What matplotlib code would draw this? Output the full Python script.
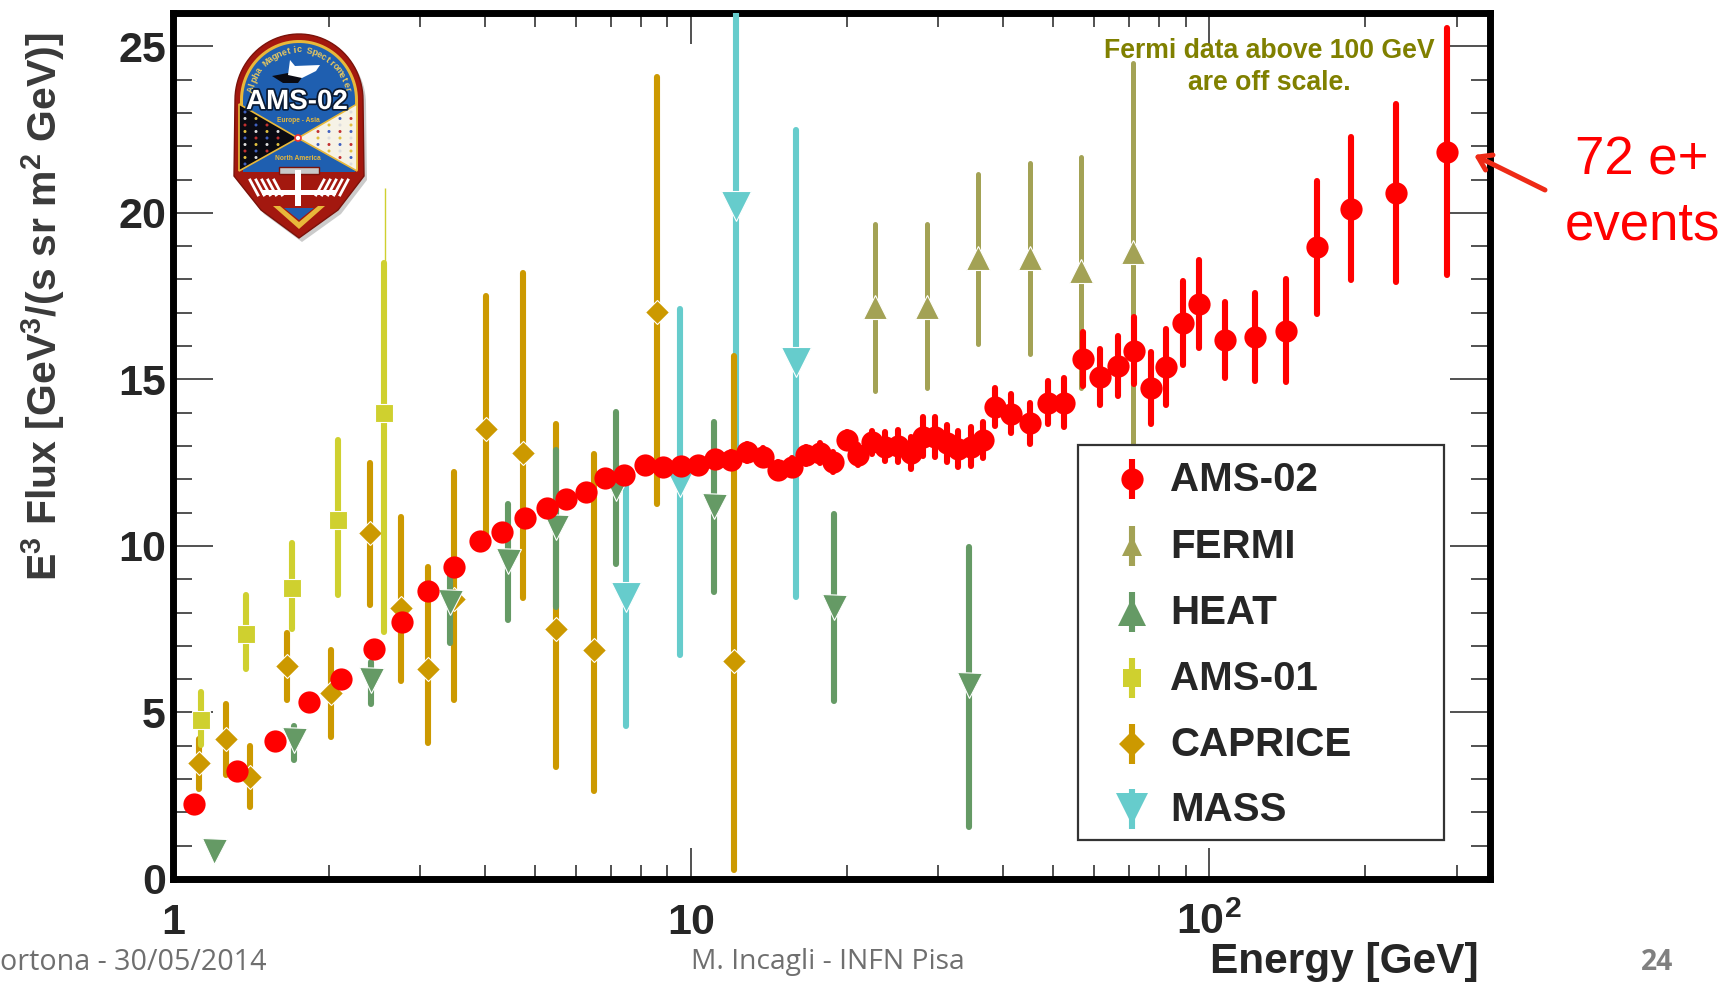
import math
import numpy as np
import matplotlib
matplotlib.use("Agg")
import matplotlib.pyplot as plt
import matplotlib.patheffects as pe
from matplotlib.patches import Polygon, Rectangle, Circle, FancyArrowPatch

plt.rcParams['font.family'] = ['Liberation Sans', 'DejaVu Sans']
plt.rcParams['mathtext.fontset'] = 'custom'
plt.rcParams['mathtext.bf'] = 'Liberation Sans:bold'
plt.rcParams['mathtext.rm'] = 'Liberation Sans'

# values
ams02_e = [1.10, 1.327, 1.572, 1.83, 2.11, 2.44, 2.77, 3.11, 3.48, 3.91, 4.32, 4.77, 5.26, 5.74, 6.27,
           6.83, 7.43, 8.14, 8.82, 9.54, 10.33, 11.11, 11.96, 12.82, 13.73, 14.71, 15.68, 16.63, 17.73,
           18.81, 19.95, 20.95, 22.3, 23.7, 25.1, 26.5, 28.0, 29.6, 31.2, 32.8, 34.6, 36.5, 38.5, 41.5,
           45.1, 48.8, 52.5, 57.1, 61.5, 66.5, 71.6, 77.1, 82.6, 88.9, 95.7, 107.1, 122.3, 140.4, 161,
           187.6, 229.5, 287.7]
ams02_flux = [2.26, 3.23, 4.15, 5.30, 5.99, 6.90, 7.72, 8.64, 9.36, 10.15, 10.41, 10.83, 11.13, 11.42, 11.62,
              12.05, 12.12, 12.42, 12.37, 12.40, 12.42, 12.62, 12.58, 12.81, 12.68, 12.28, 12.38, 12.72, 12.78,
              12.52, 13.18, 12.72, 13.11, 12.98, 13.01, 12.78, 13.28, 13.28, 13.08, 12.91, 12.98, 13.18, 14.17, 13.97,
              13.68, 14.30, 14.30, 15.60, 15.07, 15.40, 15.86, 14.74, 15.36, 16.69, 17.25, 16.19, 16.26, 16.46, 18.97,
              20.13, 20.60, 21.84]
ams02_err = [0.1, 0.1, 0.1, 0.1, 0.1, 0.15, 0.15, 0.15, 0.15, 0.15, 0.2, 0.2, 0.2, 0.2, 0.2,
             0.2, 0.2, 0.2, 0.2, 0.2, 0.2, 0.2, 0.25, 0.25, 0.25, 0.25, 0.25, 0.25, 0.3,
             0.3, 0.23, 0.3, 0.35, 0.43, 0.48, 0.48, 0.58, 0.6, 0.56, 0.53, 0.58, 0.55, 0.58, 0.58,
             0.61, 0.65, 0.73, 0.81, 0.84, 0.89, 1.0, 1.08, 1.14, 1.27, 1.32, 1.14, 1.32, 1.55, 2.0,
             2.15, 2.68, 3.7]

fermi_e = [22.6, 28.5, 35.7, 45.1, 56.6, 71.2]
fermi_flux = [17.18, 17.18, 18.65, 18.65, 18.25, 18.81]
fermi_lo = [14.65, 14.75, 16.07, 15.75, 14.73, 13.08]
fermi_hi = [19.67, 19.67, 21.16, 21.51, 21.68, 24.5]

heat_e = [1.20, 1.71, 2.41, 3.43, 4.44, 5.48, 7.15, 11.09, 18.9, 34.4]
heat_flux = [0.84, 4.18, 5.98, 8.33, 9.56, 10.58, 11.73, 11.19, 8.18, 5.83]
heat_lo = [0.84, 3.58, 5.26, 7.09, 7.78, 8.18, 9.46, 8.63, 5.33, 1.56]
heat_hi = [0.84, 4.58, 6.53, 9.18, 11.27, 12.87, 14.02, 13.72, 10.96, 9.97]

ams01_e = [1.13, 1.383, 1.70, 2.08, 2.55]
ams01_flux = [4.76, 7.36, 8.75, 10.77, 14.0]
ams01_lo = [4.03, 6.3, 7.52, 8.52, 7.42]
ams01_hi = [5.6, 8.52, 10.09, 13.17, 18.5]
ams01_thin_e = 2.57
ams01_thin_top = 20.76

caprice_e = [1.12, 1.264, 1.41, 1.66, 2.02, 2.40, 2.75, 3.11, 3.48, 4.01, 4.74, 5.48, 6.49, 8.60, 12.1]
caprice_flux = [3.49, 4.19, 3.07, 6.38, 5.59, 10.38, 8.14, 6.3, 8.41, 13.52, 12.78, 7.5, 6.88, 17.03, 6.56]
caprice_lo = [2.71, 3.13, 2.15, 5.38, 4.27, 8.22, 5.93, 4.08, 5.38, 10.27, 8.44, 3.35, 2.65, 11.27, 0.26]
caprice_hi = [4.19, 5.26, 3.98, 7.38, 6.88, 12.48, 10.87, 9.38, 12.22, 17.49, 18.18, 13.65, 12.75, 24.08, 15.7]

mass_e = [7.50, 9.50, 12.2, 15.95]
mass_flux = [8.48, 11.92, 20.2, 15.52]
mass_lo = [4.58, 6.73, 12.5, 8.48]
mass_hi = [12.1, 17.12, 27.0, 22.5]

y_ticks = [0, 5, 10, 15, 20, 25]
y_tick_labels = ['0', '5', '10', '15', '20', '25']
x_ticks = [1, 10, 100]
x_tick_labels = ['1', '10', r'10$^{\mathbf{2}}$']
legend_names = ['AMS-02', 'FERMI', 'HEAT', 'AMS-01', 'CAPRICE', 'MASS']

RED = '#ff0000'
FERMI_C = '#a3a255'
HEAT_C = '#659a65'
AMS01_C = '#cfd02f'
CAPRICE_C = '#cc9900'
MASS_C = '#66cccc'
TEXT_C = '#262626'

W, H = 1733, 983
fig = plt.figure(figsize=(W / 100, H / 100), dpi=100, facecolor='white')
ax = fig.add_axes([173 / W, 1 - 879 / H, (1490 - 173) / W, (879 - 13) / H])


def draw(e, flux, lo, hi, color, marker, ms, lw, z):
    lo = np.array(lo)
    hi = np.array(hi)
    flux = np.array(flux)
    cont = ax.errorbar(e, flux, yerr=[flux - lo, hi - flux], fmt=marker, color=color, ms=ms,
                       mec='white', mew=0.8, elinewidth=lw, capsize=0, zorder=z)
    cont[2][0].set_capstyle('round')


draw(mass_e, mass_flux, mass_lo, mass_hi, MASS_C, 'v', 21, 4.4, 3)
draw(caprice_e, caprice_flux, caprice_lo, caprice_hi, CAPRICE_C, 'D', 12, 4.4, 4)
ax.vlines(ams01_thin_e, ams01_hi[-1], ams01_thin_top, color=AMS01_C, lw=1.0, zorder=5)
draw(ams01_e, ams01_flux, ams01_lo, ams01_hi, AMS01_C, 's', 12.5, 4.4, 5)
draw(heat_e, heat_flux, heat_lo, heat_hi, HEAT_C, 'v', 18, 4.4, 6)
draw(fermi_e, fermi_flux, fermi_lo, fermi_hi, FERMI_C, '^', 17, 3.6, 7)
red = ax.errorbar(ams02_e, ams02_flux, yerr=ams02_err, fmt='o', color=RED, ms=16, mec=RED, mew=0,
                  elinewidth=4.4, capsize=0, zorder=8)
red[2][0].set_capstyle('round')

ax.set_xscale('log')
ax.set_xlim(1, 348)
ax.set_ylim(0, 26)
ax.set_xticks(x_ticks)
ax.set_xticklabels(x_tick_labels)
ax.set_xticks([m * d for d in (1, 10, 100) for m in range(2, 10) if m * d < 348], minor=True)
ax.set_xticklabels([], minor=True)
ax.set_yticks(y_ticks)
ax.set_yticklabels(y_tick_labels)
ax.set_yticks([v for v in range(0, 27) if v % 5 != 0], minor=True)
for s in ax.spines.values():
    s.set_linewidth(5)
    s.set_color('black')
ax.tick_params(axis='x', which='major', direction='in', top=True, length=22, width=1.2, color='#333333',
               pad=17, labelsize=31, labelcolor=TEXT_C)
ax.tick_params(axis='x', which='minor', direction='in', top=True, length=10, width=1.2, color='#333333')
ax.tick_params(axis='y', which='major', direction='in', right=True, length=29, width=1.2, color='#333333',
               pad=5, labelsize=31, labelcolor=TEXT_C)
ax.tick_params(axis='y', which='minor', direction='in', right=True, length=14, width=1.2, color='#333333')
for t in ax.get_xticklabels() + ax.get_yticklabels():
    t.set_fontweight('bold')

# everything placed by pixel goes on a transparent axes over the plot
ov = fig.add_axes([0, 0, 1, 1], facecolor='none')
ov.set_xlim(0, W)
ov.set_ylim(H, 0)
ov.axis('off')

ov.text(43, 307, r'E$^{\mathbf{3}}$ Flux [GeV$^{\mathbf{3}}$/(s sr m$^{\mathbf{2}}$ GeV)]', rotation=90,
        ha='center', va='center', fontsize=29.5, fontweight='bold', color='#3a3a3a')
ov.text(1479, 962, 'Energy [GeV]', ha='right', va='center', fontsize=30.5, fontweight='bold', color=TEXT_C)

ov.text(1269, 67, 'Fermi data above 100 GeV\nare off scale.', ha='center', va='center', fontsize=19.2,
        fontweight='bold', color='#808000', linespacing=1.3)
ov.text(1642, 193, '72 e+\nevents', ha='center', va='center', fontsize=38, color=RED, linespacing=1.4)
ov.add_patch(FancyArrowPatch((1545, 190), (1474, 155), arrowstyle='->,head_length=9,head_width=6',
                             color='#ee2a16', lw=3.6, shrinkA=0, shrinkB=0))

ov.text(0, 962, 'ortona - 30/05/2014', ha='left', va='center', fontsize=20.6, family='Open Sans', color='#6f6f6f')
ov.text(828, 962, 'M. Incagli - INFN Pisa', ha='center', va='center', fontsize=20.3, family='Open Sans',
        color='#6f6f6f')
ov.text(1657, 962, '24', ha='center', va='center', fontsize=20.3, family='Open Sans', fontweight='bold',
        color='#808080')

# legend box
ov.add_patch(Rectangle((1078, 445), 366, 395, fc='white', ec='#333333', lw=1.6, zorder=10))
legend_y = [479, 546, 612, 678, 744, 809]
legend_style = [(RED, 'o', 16, 4.4), (FERMI_C, '^', 15, 4.4), (HEAT_C, '^', 20, 4.4),
                (AMS01_C, 's', 12.5, 4.4), (CAPRICE_C, 'D', 13, 4.4), (MASS_C, 'v', 23, 4.4)]
for name, y, st in zip(legend_names, legend_y, legend_style):
    ov.plot([1132, 1132], [y - 20, y + 20], color=st[0], lw=st[3], zorder=11, solid_capstyle='butt')
    ov.plot([1132], [y], st[1], color=st[0], ms=st[2], mew=0, zorder=12)
    ov.text(1170, y + 1, name, ha='left', va='center', fontsize=29, fontweight='bold', color=TEXT_C, zorder=12)


# AMS-02 mission badge
def badge():
    cx, cy, rx = 299, 100, 64
    arch = [(cx - rx * math.cos(a), cy - 66 * math.sin(a)) for a in np.linspace(0, math.pi, 50)]
    outer = arch + [(364, 176), (338, 210), (299, 238), (261, 210), (234, 176)]
    ov.add_patch(Polygon([(x + 3, y + 4) for x, y in outer], fc='#999999', ec='none', alpha=0.5, zorder=20))
    ov.add_patch(Polygon(outer, fc='#a3180f', ec='#7a120a', lw=1, zorder=21))
    arch2 = [(cx - 59 * math.cos(a), cy - 60 * math.sin(a)) for a in np.linspace(0, math.pi, 50)]
    ov.add_patch(Polygon(arch2 + [(358, 170), (240, 170)], fc='#e8b83a', ec='none', zorder=22))
    arch3 = [(cx - 56 * math.cos(a), cy - 57 * math.sin(a)) for a in np.linspace(0, math.pi, 50)]
    ov.add_patch(Polygon(arch3 + [(355, 172), (243, 172)], fc='#1f5fb0', ec='none', zorder=23))
    # black and white wedges
    ov.add_patch(Polygon([(239, 104), (298, 138), (239, 171)], fc='#0a0a12', ec='#e8b83a', lw=1.2, zorder=24))
    ov.add_patch(Polygon([(357, 104), (298, 138), (357, 171)], fc='#f6f2e6', ec='#e8b83a', lw=1.2, zorder=24))
    dot_cols = ['#dddddd', '#c23030', '#e0c040', '#4060c0']
    for i in range(4):
        for j in range(2 * i + 3):
            yy = 138 + (j - (2 * i + 2) / 2) * 6.5
            ov.add_patch(Circle((278 - i * 11, yy), 1.5, fc=dot_cols[(i + j) % 4], ec='none', zorder=25))
            ov.add_patch(Circle((318 + i * 11, yy), 1.5, fc=dot_cols[(i + j + 1) % 4], ec='none', zorder=25))
    ov.add_patch(Circle((298, 138), 3, fc='white', ec='#ee3030', lw=1.2, zorder=26))
    # lower blue panel and chevron
    ov.add_patch(Polygon([(298, 142), (356, 172), (243, 172)], fc='#1f5fb0', ec='none', zorder=26))
    ov.add_patch(Polygon([(273, 206), (299, 229), (325, 206), (318, 206), (299, 222), (280, 206)], fc='#e8b83a',
                         ec='none', zorder=26))
    ov.add_patch(Polygon([(284, 208), (299, 220), (314, 208)], fc='#1f5fb0', ec='none', zorder=26))
    ov.text(298, 158, 'North America', ha='center', va='center', fontsize=4.8, fontweight='bold', color='#e8b83a',
            zorder=27)
    ov.text(298, 121, 'Europe - Asia', ha='center', va='center', fontsize=4.8, fontweight='bold', color='#e8b83a',
            zorder=27)
    # station
    ov.add_patch(Rectangle((279, 167), 40, 7, fc='#c8c8c8', ec='#7a120a', lw=1, zorder=27))
    ov.add_patch(Rectangle((295, 170), 6, 36, fc='white', ec='none', zorder=27))
    ov.add_patch(Rectangle((262, 190), 74, 5, fc='white', ec='none', zorder=27))
    for k in range(5):
        ov.plot([250 + k * 6, 258 + k * 6], [180, 195], color='white', lw=2, zorder=27)
        ov.plot([348 - k * 6, 340 - k * 6], [180, 195], color='white', lw=2, zorder=27)
    # shuttle
    ov.add_patch(Polygon([(272, 76), (288, 73), (303, 76), (298, 83), (283, 83)], fc='#0a0a12', ec='none', zorder=27))
    ov.add_patch(Polygon([(290, 60), (295, 66), (320, 65), (316, 71), (302, 78), (288, 75)], fc='white', ec='none',
                         zorder=28))
    # title band
    ov.text(297, 102, 'AMS-02', ha='center', va='center', fontsize=20, fontweight='bold', color='white', zorder=29,
            path_effects=[pe.withStroke(linewidth=2.5, foreground='#0a1a33')])
    # curved title, one letter at a time
    title = 'Alpha Magnetic Spectrometer'
    n = len(title)
    for i, ch in enumerate(title):
        a = math.radians(168 - i * 156 / (n - 1))
        x = cx + 49 * math.cos(a)
        y = cy - 50 * math.sin(a)
        ov.text(x, y, ch, ha='center', va='center', fontsize=6.5, fontweight='bold', color='#e8c860',
                rotation=math.degrees(a) - 90, zorder=29)


badge()

fig.savefig('out.png', dpi=100, facecolor='white')
